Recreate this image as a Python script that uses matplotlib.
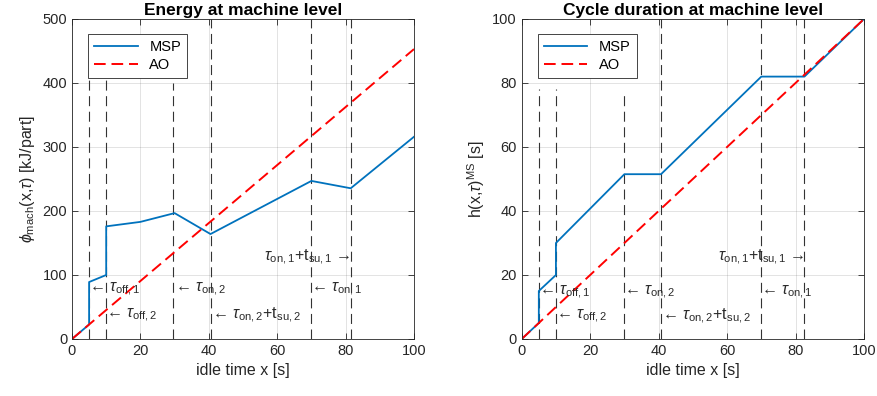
import matplotlib
matplotlib.use('Agg')
import matplotlib.pyplot as plt

# data
x_line = [0, 100]

# left panel: energy at machine level
e_msp_x = [0, 5, 5, 10, 10, 20, 30, 40.5, 70, 81.5, 100]
e_msp_y = [0, 22.6, 89, 100, 176, 183, 196.7, 164, 247, 235.5, 316]
e_ao_y = [0, 453]
e_vlines = [5, 10, 29.6, 40.5, 70, 81.5]
e_vtops = [405, 405, 400, 500, 500, 500]

# right panel: cycle duration at machine level
h_msp_x = [0, 5, 5, 10, 10, 30, 40.7, 70, 82.6, 100]
h_msp_y = [0, 5, 15, 20, 30, 51.5, 51.5, 82, 82, 100]
h_ao_y = [0, 100]
h_vlines = [5, 10, 29.9, 40.7, 69.8, 82.6]
h_vtops = [78, 78, 77, 100, 100, 100]

labels = [r'← $\tau_{\rm off,1}$', r'← $\tau_{\rm off,2}$',
          r'← $\tau_{\rm on,2}$', r'← $\tau_{\rm on,2}$+t$_{\rm su,2}$',
          r'← $\tau_{\rm on,1}$', r'$\tau_{\rm on,1}$+t$_{\rm su,1}$ →']
e_lab_x = [5, 10, 30, 41, 70, 81.5]
e_lab_y = [77, 37, 77, 37, 77, 128]
h_lab_x = [5, 10, 30, 41, 70, 82.6]
h_lab_y = [14.5, 7, 14.5, 7, 14.5, 25.6]

plt.rcParams['font.family'] = ['Liberation Sans', 'DejaVu Sans']
plt.rcParams['mathtext.fontset'] = 'custom'
plt.rcParams['mathtext.rm'] = 'Liberation Sans'
plt.rcParams['mathtext.it'] = 'Liberation Sans:italic'
plt.rcParams['axes.edgecolor'] = '#262626'
plt.rcParams['xtick.color'] = '#262626'
plt.rcParams['ytick.color'] = '#262626'

blue = '#0072BD'
dark = '#262626'

fig = plt.figure(figsize=(8.78, 3.96), dpi=100)
ax1 = fig.add_axes([72/878, 1-339/396, 342/878, 320/396])
ax2 = fig.add_axes([521.7/878, 1-339/396, 342.3/878, 320/396])


def panel(ax, mx, my, aoy, vl, vt, lx, ly, ymax, title, ylabel):
    ax.grid(True, color=dark, alpha=0.15, lw=0.6)
    ax.set_axisbelow(True)
    for xv, top in zip(vl, vt):
        ax.plot([xv, xv], [0, top], color='#333333', lw=0.8, dashes=(9, 5))
    ax.plot(mx, my, color=blue, lw=1.3, label='MSP')
    ax.plot(x_line, aoy, color='red', lw=1.4, dashes=(6, 3), label='AO')
    for i, t in enumerate(labels):
        ha = 'right' if i == 5 else 'left'
        ax.text(lx[i], ly[i], t, ha=ha, va='center', fontsize=11.5, color='#2a2a2a')
    ax.set_xlim(0, 100)
    ax.set_ylim(0, ymax)
    ax.set_xticks([0, 20, 40, 60, 80, 100])
    ax.tick_params(direction='in', top=True, right=True, labelsize=10.5, length=4, width=0.6)
    for s in ax.spines.values():
        s.set_linewidth(0.6)
    ax.set_xlabel('idle time x [s]', fontsize=11.5, color=dark)
    ax.set_ylabel(ylabel, fontsize=11.5, color=dark)
    ax.set_title(title, fontsize=12.5, fontweight='bold', pad=3)
    leg = ax.legend(loc='upper left', bbox_to_anchor=(0.047, 0.953), borderaxespad=0,
                    fontsize=10.5, fancybox=False, edgecolor=dark, framealpha=1,
                    handlelength=3.0, borderpad=0.4, labelspacing=0.3)
    leg.get_frame().set_linewidth(0.6)


panel(ax1, e_msp_x, e_msp_y, e_ao_y, e_vlines, e_vtops, e_lab_x, e_lab_y, 500,
      'Energy at machine level', r'$\phi_{\rm mach}$(x,$\tau$) [kJ/part]')
ax1.set_yticks([0, 100, 200, 300, 400, 500])
panel(ax2, h_msp_x, h_msp_y, h_ao_y, h_vlines, h_vtops, h_lab_x, h_lab_y, 100,
      'Cycle duration at machine level', r'h(x,$\tau$)$^{\rm MS}$ [s]')
ax2.set_yticks([0, 20, 40, 60, 80, 100])

fig.savefig('out.png', dpi=100)
